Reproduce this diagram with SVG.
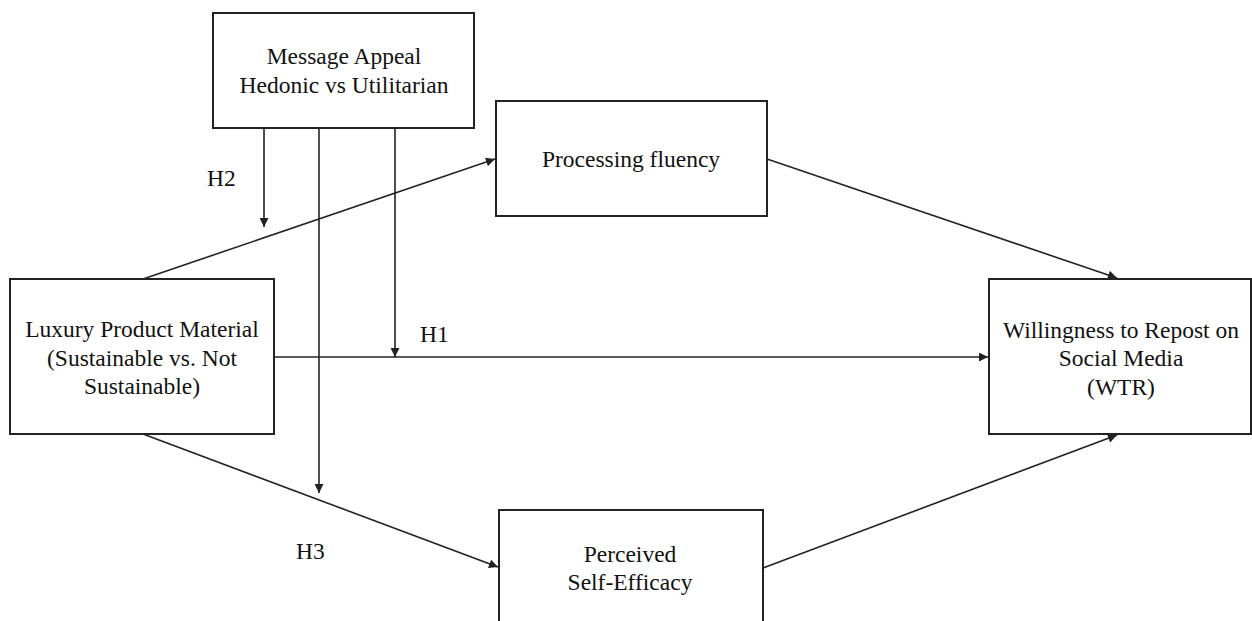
<svg xmlns="http://www.w3.org/2000/svg" width="1252" height="621" viewBox="0 0 1252 621">
<style>
.box{fill:#fff;stroke:#222;stroke-width:2}
.t{font-family:"Liberation Serif","Times New Roman",serif;font-size:23.5px;fill:#111;text-anchor:middle}
.lbl{font-family:"Liberation Serif","Times New Roman",serif;font-size:23.5px;fill:#111}
.c{stroke:#222;stroke-width:1.6;fill:none}
</style>
<defs>
<marker id="ah" viewBox="0 0 10 10" refX="10" refY="5" markerWidth="11" markerHeight="9" markerUnits="userSpaceOnUse" orient="auto">
<path d="M0,0 L10,5 L0,10 z" fill="#222"/>
</marker>
</defs>
<rect width="1252" height="621" fill="#fff"/>
<g id="connectors">
<line class="c" x1="143" y1="279" x2="495" y2="159" marker-end="url(#ah)"/>
<line class="c" x1="767" y1="159" x2="1117" y2="278" marker-end="url(#ah)"/>
<line class="c" x1="274" y1="357" x2="988" y2="357" marker-end="url(#ah)"/>
<line class="c" x1="143" y1="434" x2="498" y2="567" marker-end="url(#ah)"/>
<line class="c" x1="763" y1="568" x2="1117" y2="435" marker-end="url(#ah)"/>
<line class="c" x1="264" y1="128" x2="264" y2="227" marker-end="url(#ah)"/>
<line class="c" x1="319" y1="128" x2="319" y2="493" marker-end="url(#ah)"/>
<line class="c" x1="395" y1="128" x2="395" y2="357" marker-end="url(#ah)"/>
<text class="lbl" x="207" y="186">H2</text>
<text class="lbl" x="420" y="342">H1</text>
<text class="lbl" x="296" y="559">H3</text>
</g>
<g id="message-appeal">
<rect class="box" x="213" y="13" width="261" height="115"/>
<text class="t" x="344" y="64">Message Appeal</text>
<text class="t" x="344" y="93">Hedonic vs Utilitarian</text>
</g>
<g id="luxury-product">
<rect class="box" x="10" y="279" width="264" height="155"/>
<text class="t" x="142" y="337">Luxury Product Material</text>
<text class="t" x="142" y="366">(Sustainable vs. Not</text>
<text class="t" x="142" y="394">Sustainable)</text>
</g>
<g id="processing-fluency">
<rect class="box" x="496" y="101" width="271" height="115"/>
<text class="t" x="631" y="167">Processing fluency</text>
</g>
<g id="wtr">
<rect class="box" x="989" y="279" width="262" height="155"/>
<text class="t" x="1121" y="338">Willingness to Repost on</text>
<text class="t" x="1121" y="366">Social Media</text>
<text class="t" x="1121" y="395">(WTR)</text>
</g>
<g id="self-efficacy">
<rect class="box" x="499" y="510" width="264" height="130"/>
<text class="t" x="630" y="562">Perceived</text>
<text class="t" x="630" y="590">Self-Efficacy</text>
</g>
</svg>
